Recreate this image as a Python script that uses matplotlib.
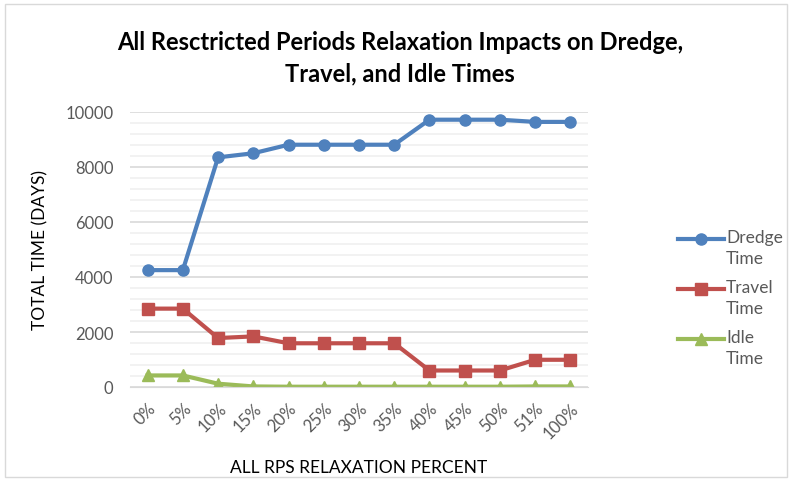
import matplotlib.pyplot as plt
from matplotlib.lines import Line2D
from matplotlib.patches import Rectangle
from matplotlib.ticker import MultipleLocator

categories = ['0%', '5%', '10%', '15%', '20%', '25%', '30%', '35%',
              '40%', '45%', '50%', '51%', '100%']
dredge = [4250, 4250, 8350, 8500, 8810, 8810, 8810, 8810, 9720, 9720, 9720, 9640, 9640]
travel = [2850, 2850, 1780, 1840, 1590, 1590, 1590, 1590, 600, 600, 600, 990, 990]
idle = [420, 420, 120, 20, 10, 10, 10, 10, 10, 10, 10, 20, 20]

series_names = ['Dredge\nTime', 'Travel\nTime', 'Idle\nTime']
colors = ['#4F81BD', '#C0504D', '#9BBB59']
markers = ['o', 's', '^']

plt.rcParams['font.family'] = ['Lato', 'DejaVu Sans']

fig = plt.figure(figsize=(7.9, 4.81), dpi=100)
ax = fig.add_axes([130 / 790, 1 - 388 / 481, 458 / 790, 275 / 481])

x = range(len(categories))
for vals, c, m in zip([dredge, travel, idle], colors, markers):
    ax.plot(x, vals, color=c, lw=3, marker=m, ms=8)

ax.set_xlim(-0.5, len(categories) - 0.5)
ax.set_ylim(0, 10000)
ax.yaxis.set_major_locator(MultipleLocator(2000))
ax.yaxis.set_minor_locator(MultipleLocator(400))
ax.grid(which='major', axis='y', color='#D9D9D9', lw=1.2)
ax.grid(which='minor', axis='y', color='#F0F0F0', lw=1.2)
ax.set_axisbelow(True)
for s in ['top', 'right', 'left']:
    ax.spines[s].set_visible(False)
ax.spines['bottom'].set_color('#D9D9D9')

ax.set_xticks(list(x))
ax.set_xticklabels(categories, rotation=45, ha='right', rotation_mode='anchor')
ax.tick_params(axis='x', length=0, pad=9, labelsize=12, labelcolor='#595959')
ax.tick_params(axis='y', which='both', length=0, pad=12, labelsize=12, labelcolor='#595959')

ax.set_xlabel('ALL RPS RELAXATION PERCENT', fontsize=12.5, labelpad=13)
ax.set_ylabel('TOTAL TIME (DAYS)', fontsize=12.5, labelpad=12)

ax.set_title('All Resctricted Periods Relaxation Impacts on Dredge,\nTravel, and Idle Times',
             fontsize=17, fontweight='bold', pad=23, x=0.59, linespacing=1.45)

# legend drawn by hand so the line sits beside the first text line
for i, (name, c, m) in enumerate(zip(series_names, colors, markers)):
    y = 1 - (240 + i * 50) / 481
    fig.add_artist(Line2D([678 / 790, 724 / 790], [y, y], color=c, lw=3,
                          transform=fig.transFigure))
    fig.add_artist(Line2D([701 / 790], [y], color=c, marker=m, ms=8,
                          transform=fig.transFigure))
    fig.text(726 / 790, y + 10 / 481, name, fontsize=12.5, color='#595959',
             va='top', linespacing=1.38)

fig.patches.append(Rectangle((5 / 790, 3 / 481), 782 / 790, 473 / 481,
                             transform=fig.transFigure, fill=False,
                             edgecolor='#D9D9D9', lw=1))

fig.savefig('out.png', dpi=100)
